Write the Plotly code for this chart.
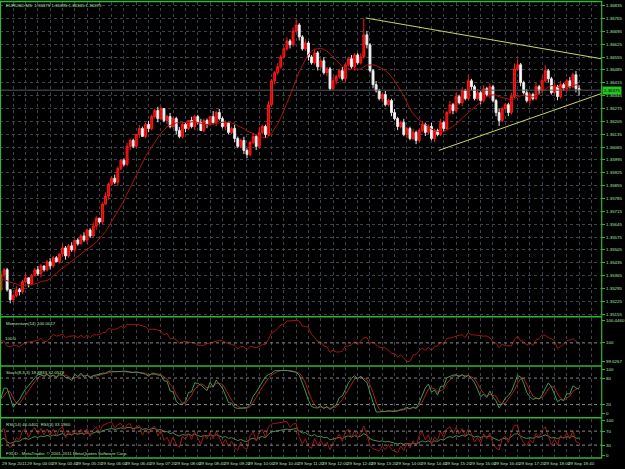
import plotly.graph_objects as go
import pandas as pd
import numpy as np

# ---------------- data (EURUSD, M5, 29 Sep 2011) ----------------
# 20 earlier bars (off screen, used only to warm up the indicators)
HIST_CLOSE = [1.35332, 1.35310, 1.35343, 1.35364, 1.35321, 1.35288, 1.35310, 1.35353, 1.35375, 1.35343,
              1.35321, 1.35353, 1.35386, 1.35364, 1.35332, 1.35299, 1.35321, 1.35343, 1.35310, 1.35288]
HIST_UP = [1, 2, 1, 1, 2, 1, 1, 2, 1, 1, 2, 1, 1, 2, 1, 1, 2, 1, 1, 2]
HIST_DN = [2, 1, 1, 2, 1, 1, 2, 1, 1, 2, 1, 1, 2, 1, 1, 2, 1, 1, 2, 1]

# visible bars, 03:20 .. 19:00
CLOSE = [
    1.35369, 1.35397, 1.35288, 1.35234, 1.35256, 1.35288, 1.35277, 1.35332, 1.35353, 1.35321,
    1.35364, 1.35397, 1.35375, 1.35418, 1.35397, 1.35440, 1.35418, 1.35462, 1.35440, 1.35483,
    1.35516, 1.35472, 1.35527, 1.35505, 1.35559, 1.35538, 1.35581, 1.35559, 1.35613, 1.35581,
    1.35635, 1.35678, 1.35657, 1.35754, 1.35798, 1.35863, 1.35895, 1.35874, 1.35949, 1.35993,
    1.35971, 1.36069, 1.36101, 1.36069, 1.36134, 1.36166, 1.36123, 1.36188, 1.36166, 1.36231,
    1.36264, 1.36220, 1.36275, 1.36210, 1.36231, 1.36177, 1.36220, 1.36155, 1.36123, 1.36188,
    1.36166, 1.36210, 1.36177, 1.36231, 1.36199, 1.36155, 1.36210, 1.36188, 1.36231, 1.36199,
    1.36253, 1.36220, 1.36177, 1.36199, 1.36145, 1.36166, 1.36112, 1.36069, 1.36101, 1.36047,
    1.36025, 1.36090, 1.36123, 1.36069, 1.36145, 1.36177, 1.36134, 1.36296, 1.36426, 1.36470,
    1.36502, 1.36556, 1.36600, 1.36643, 1.36622, 1.36697, 1.36730, 1.36665, 1.36600, 1.36632,
    1.36556, 1.36524, 1.36578, 1.36502, 1.36535, 1.36470, 1.36491, 1.36383, 1.36426, 1.36448,
    1.36481, 1.36437, 1.36513, 1.36546, 1.36502, 1.36567, 1.36524, 1.36556, 1.36676, 1.36622,
    1.36481, 1.36405, 1.36372, 1.36329, 1.36351, 1.36296, 1.36318, 1.36253, 1.36220, 1.36177,
    1.36199, 1.36134, 1.36166, 1.36112, 1.36145, 1.36101, 1.36155, 1.36188, 1.36145, 1.36177,
    1.36112, 1.36155, 1.36134, 1.36199, 1.36166, 1.36253, 1.36296, 1.36264, 1.36340, 1.36307,
    1.36372, 1.36329, 1.36426, 1.36394, 1.36329, 1.36361, 1.36318, 1.36383, 1.36351, 1.36394,
    1.36318, 1.36253, 1.36210, 1.36275, 1.36296, 1.36253, 1.36340, 1.36491, 1.36513, 1.36416,
    1.36361, 1.36318, 1.36351, 1.36329, 1.36394, 1.36372, 1.36426, 1.36481, 1.36437, 1.36361,
    1.36394, 1.36340, 1.36405, 1.36383, 1.36426, 1.36394, 1.36459, 1.36383, 1.36375]
# wick lengths above / below the body, in pips
UP = [2, 1, 1, 0, 1, 2, 1, 1, 2, 0, 1, 1, 2, 1, 0, 1, 2, 1, 1, 0,
      2, 1, 1, 2, 0, 1, 1, 2, 1, 1, 2, 1, 0, 1, 2, 1, 1, 2, 1, 0,
      1, 2, 1, 1, 0, 2, 1, 1, 2, 1, 1, 2, 1, 0, 1, 2, 1, 1, 2, 1,
      1, 0, 2, 1, 1, 2, 1, 1, 0, 3, 1, 2, 1, 1, 0, 1, 2, 1, 1, 2,
      1, 1, 2, 1, 3, 1, 1, 2, 1, 1, 2, 1, 1, 2, 1, 2, 3, 1, 1, 2,
      1, 1, 2, 1, 1, 2, 1, 1, 2, 1, 1, 2, 1, 1, 2, 1, 1, 2, 9, 2,
      1, 1, 2, 1, 1, 2, 1, 1, 2, 1, 1, 2, 1, 1, 2, 1, 1, 2, 1, 1,
      2, 1, 1, 2, 1, 1, 2, 1, 2, 1, 2, 1, 3, 1, 1, 2, 1, 2, 1, 2,
      1, 1, 2, 1, 1, 1, 2, 3, 3, 1, 1, 2, 1, 1, 2, 1, 2, 3, 1, 1,
      2, 1, 2, 1, 1, 2, 1, 2, 2]
DN = [1, 2, 1, 2, 1, 1, 2, 1, 1, 2, 1, 0, 1, 2, 1, 1, 2, 1, 0, 1,
      1, 2, 1, 1, 2, 1, 0, 1, 2, 1, 1, 2, 1, 1, 0, 2, 1, 1, 2, 1,
      1, 1, 2, 1, 1, 2, 0, 1, 2, 1, 1, 2, 1, 1, 2, 1, 1, 2, 1, 1,
      2, 1, 1, 2, 1, 0, 1, 2, 1, 1, 2, 1, 1, 2, 1, 1, 2, 1, 1, 2,
      2, 1, 1, 2, 1, 1, 2, 1, 1, 2, 1, 1, 0, 1, 2, 1, 1, 2, 1, 1,
      2, 1, 1, 2, 1, 1, 2, 1, 1, 2, 1, 1, 2, 1, 1, 2, 1, 1, 1, 2,
      1, 2, 1, 1, 2, 1, 1, 2, 1, 2, 1, 1, 2, 1, 1, 2, 1, 1, 2, 1,
      1, 2, 1, 1, 2, 1, 1, 2, 1, 1, 2, 1, 1, 2, 1, 1, 2, 1, 1, 2,
      1, 2, 3, 1, 1, 2, 1, 1, 1, 2, 1, 1, 2, 1, 1, 2, 1, 1, 2, 1,
      1, 2, 1, 1, 2, 1, 1, 2, 3]

PRICE_TICKS = [1.36835, 1.36765, 1.36695, 1.36625, 1.36555, 1.36485, 1.36415, 1.36345, 1.36275,
               1.36205, 1.36135, 1.36065, 1.35995, 1.35925, 1.35855, 1.35785, 1.35715, 1.35645,
               1.35575, 1.35505, 1.35435, 1.35365, 1.35295, 1.35225, 1.35155]
TIME_LABELS = ["29 Sep 2011", "29 Sep 04:00", "29 Sep 04:40", "29 Sep 05:20", "29 Sep 06:00",
               "29 Sep 06:40", "29 Sep 07:20", "29 Sep 08:00", "29 Sep 08:40", "29 Sep 09:20",
               "29 Sep 10:00", "29 Sep 10:40", "29 Sep 11:20", "29 Sep 12:00", "29 Sep 12:40",
               "29 Sep 13:20", "29 Sep 14:00", "29 Sep 14:40", "29 Sep 15:20", "29 Sep 16:00",
               "29 Sep 16:40", "29 Sep 17:20", "29 Sep 18:00", "29 Sep 18:40"]
LABEL_EVERY = 8     # bars between time labels
GRID_EVERY = 4      # bars between vertical grid lines
BID = 1.36375
# triangle trend lines: (bar index, price)
TRI_UPPER_X, TRI_UPPER_P = [118.6, 195.2], [1.36768, 1.36546]
TRI_LOWER_X, TRI_LOWER_P = [142.4, 195.2], [1.36047, 1.36356]

HEADER = "EURUSD,M5  1.36375 1.36395 1.36345 1.36375"
MOM_LABEL = "Momentum(14) 100.0017"
STO_LABEL = "Stoch(8,3,3) 18.8833 32.0578"
RSI_LABEL = "RSI(14) 46.0402  RSI(3) 33.1960"
FOOTER = "FXDD - MetaTrader, \u00a9 2001-2011 MetaQuotes Software Corp."

# ---------------- build series ----------------
closes = pd.Series(HIST_CLOSE + CLOSE)
opens = closes.shift(1).fillna(closes.iloc[0])
ups = pd.Series(HIST_UP + UP) * 0.0001
dns = pd.Series(HIST_DN + DN) * 0.0001
highs = np.maximum(opens, closes) + ups
lows = np.minimum(opens, closes) - dns
nh = len(HIST_CLOSE)
idx = pd.Series(range(-nh, len(CLOSE)))

ma = closes.rolling(14).mean()
mom = closes / closes.shift(14) * 100
ll = lows.rolling(8).min(); hh = highs.rolling(8).max()
stk = 100 * (closes - ll).rolling(3).sum() / (hh - ll).rolling(3).sum()
std = stk.rolling(3).mean()


def rsi(c, n):
    d = c.diff()
    g = d.clip(lower=0).ewm(alpha=1 / n, adjust=False).mean()
    l = (-d.clip(upper=0)).ewm(alpha=1 / n, adjust=False).mean()
    return 100 - 100 / (1 + g / l)


rsi_fast = rsi(closes, 3)
rsi_slow = rsi(closes, 14)
vis = idx >= 0

# ---------------- figure ----------------
W, H = 625, 469
PLOT_R = 608
GREEN = "#2fb82f"
TXT = "#a6eaa6"
GRID = "#3a434e"
FONT = "Liberation Sans"
FS = 4.4


def py(px):
    return 1 - px / H


fig = go.Figure()
X = idx[vis]
fig.add_trace(go.Candlestick(
    x=X, open=opens[vis], high=highs[vis], low=lows[vis], close=closes[vis],
    increasing=dict(line=dict(color="#ff1a1a", width=1), fillcolor="#e00000"),
    decreasing=dict(line=dict(color="#e8e8e8", width=1), fillcolor="#ffffff"),
    whiskerwidth=0, xaxis="x", yaxis="y", hoverinfo="skip"))
fig.add_trace(go.Scatter(x=X, y=ma[vis], mode="lines", line=dict(color="#b01010", width=1),
                         xaxis="x", yaxis="y"))
fig.add_trace(go.Scatter(x=TRI_UPPER_X, y=TRI_UPPER_P, mode="lines",
                         line=dict(color="#c9d56a", width=1), xaxis="x", yaxis="y"))
fig.add_trace(go.Scatter(x=TRI_LOWER_X, y=TRI_LOWER_P, mode="lines",
                         line=dict(color="#c9d56a", width=1), xaxis="x", yaxis="y"))
fig.add_trace(go.Scatter(x=X, y=mom[vis], mode="lines", line=dict(color="#a01616", width=1),
                         xaxis="x2", yaxis="y2"))
fig.add_trace(go.Scatter(x=X, y=std[vis], mode="lines", line=dict(color="#b02020", width=1),
                         xaxis="x3", yaxis="y3"))
fig.add_trace(go.Scatter(x=X, y=stk[vis], mode="lines", line=dict(color="#3c9c50", width=1),
                         xaxis="x3", yaxis="y3"))
fig.add_trace(go.Scatter(x=X, y=rsi_slow[vis], mode="lines", line=dict(color="#4a8a4a", width=1),
                         xaxis="x4", yaxis="y4"))
fig.add_trace(go.Scatter(x=X, y=rsi_fast[vis], mode="lines", line=dict(color="#a01818", width=1),
                         xaxis="x4", yaxis="y4"))

xr = [-0.32, 195.2]
grid_vals = list(range(GRID_EVERY, int(xr[1]) + 1, GRID_EVERY))
xdom = [0, PLOT_R / W]
common_x = dict(domain=xdom, range=xr, showticklabels=False, showgrid=True, gridcolor=GRID,
                griddash="dot", gridwidth=1, tickvals=grid_vals, zeroline=False, showline=False,
                ticks="", fixedrange=True)
tickfont = dict(family=FONT, size=FS, color=TXT)

mv = mom[vis]
mmin, mmax = float(mv.min()), float(mv.max())
mpad = (mmax - mmin) * 0.07

layout = dict(
    width=W, height=H, margin=dict(l=0, r=0, t=0, b=0),
    paper_bgcolor="black", plot_bgcolor="black", showlegend=False, boxgap=0.12,
    font=dict(family=FONT, size=FS, color=TXT),
    xaxis=dict(common_x, anchor="y", rangeslider=dict(visible=False)),
    xaxis2=dict(common_x, anchor="y2"),
    xaxis3=dict(common_x, anchor="y3"),
    xaxis4=dict(common_x, anchor="y4"),
    yaxis=dict(domain=[py(316), py(1)], range=[1.35147, 1.36855], side="right", anchor="x",
               tickvals=PRICE_TICKS, ticktext=[f"{v:.5f}" for v in PRICE_TICKS],
               showgrid=True, gridcolor=GRID, griddash="dot", zeroline=False,
               ticks="outside", ticklen=3, tickcolor=GREEN, tickfont=tickfont),
    yaxis2=dict(domain=[py(365), py(318)], range=[mmin - mpad, mmax + mpad], side="right",
                anchor="x2", tickvals=[mmax, 100, mmin],
                ticktext=[f"{mmax:.4f}", "100", f"{mmin:.4f}"],
                showgrid=False, zeroline=False, ticks="outside", ticklen=3, tickcolor=GREEN,
                tickfont=tickfont),
    yaxis3=dict(domain=[py(416), py(368)], range=[-4, 104], side="right", anchor="x3",
                tickvals=[100, 80, 20, 0], showgrid=False, zeroline=False, ticks="outside",
                ticklen=3, tickcolor=GREEN, tickfont=tickfont),
    yaxis4=dict(domain=[py(458), py(420)], range=[-4, 104], side="right", anchor="x4",
                tickvals=[100, 70, 30, 0], showgrid=False, zeroline=False, ticks="outside",
                ticklen=3, tickcolor=GREEN, tickfont=tickfont),
)
fig.update_layout(**layout)

shapes = []
# indicator levels
for ax, lv in [("y2", 100), ("y3", 80), ("y3", 20), ("y4", 70), ("y4", 30)]:
    shapes.append(dict(type="line", xref="paper", x0=0, x1=PLOT_R / W, yref=ax, y0=lv, y1=lv,
                       line=dict(color="#8a8a8a", width=1, dash="dot")))
# bid line
shapes.append(dict(type="line", xref="paper", x0=0, x1=PLOT_R / W, yref="y", y0=BID, y1=BID,
                   line=dict(color="#5a5a5a", width=1)))
# panel borders / separators
for ypx in [0.5, 317, 366.5, 418.5, 459]:
    shapes.append(dict(type="line", xref="paper", yref="paper", x0=0, x1=(PLOT_R + 1) / W,
                       y0=py(ypx), y1=py(ypx), line=dict(color=GREEN, width=1.5)))
shapes.append(dict(type="line", xref="paper", yref="paper", x0=(PLOT_R + 0.5) / W,
                   x1=(PLOT_R + 0.5) / W, y0=py(0), y1=py(459), line=dict(color=GREEN, width=1.2)))
shapes.append(dict(type="line", xref="paper", yref="paper", x0=0.5 / W, x1=0.5 / W,
                   y0=py(0), y1=py(459), line=dict(color=GREEN, width=1.2)))
fig.update_layout(shapes=shapes)

ann = []


def lab(text, xpx, ypx, **kw):
    d = dict(text=text, xref="paper", yref="paper", x=xpx / W, y=py(ypx), xanchor="left",
             yanchor="middle", showarrow=False, font=dict(family=FONT, size=FS, color=TXT))
    d.update(kw)
    ann.append(d)


lab(HEADER, 4, 5)
lab(MOM_LABEL, 4, 324)
lab(STO_LABEL, 4, 373)
lab(RSI_LABEL, 4, 425)
lab(FOOTER, 4, 454)
ann.append(dict(text="100.0", xref="paper", yref="y2", x=3 / W, y=100, xanchor="left",
                yanchor="bottom", showarrow=False, font=dict(family=FONT, size=FS, color=TXT)))
for k, t in enumerate(TIME_LABELS):
    ann.append(dict(text=t, xref="x", yref="paper", x=k * LABEL_EVERY - 0.2, y=py(464),
                    xanchor="left", yanchor="middle", showarrow=False,
                    font=dict(family=FONT, size=FS, color=TXT)))
ann.append(dict(text=f"{BID:.5f}", xref="paper", yref="y", x=(PLOT_R + 1) / W, y=BID,
                xanchor="left", yanchor="middle", showarrow=False, bgcolor="#22c422",
                borderpad=1, font=dict(family=FONT, size=FS, color="black")))
fig.update_layout(annotations=ann)

fig.write_html("out.html", config={"displayModeBar": False})
